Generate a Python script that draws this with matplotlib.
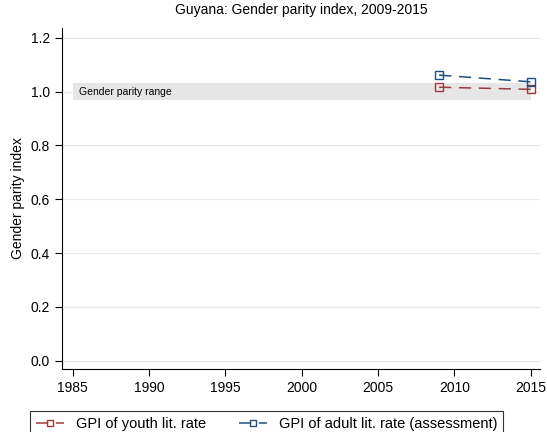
import matplotlib
matplotlib.use("Agg")
import matplotlib.pyplot as plt
from matplotlib.patches import Rectangle

plt.rcParams['font.family'] = ['Liberation Sans', 'DejaVu Sans']

years = [2009, 2015]
youth_gpi = [1.016, 1.008]
adult_gpi = [1.061, 1.036]
parity_low, parity_high = 0.97, 1.03
xticks = [1985, 1990, 1995, 2000, 2005, 2010, 2015]
yticks = [0.0, 0.2, 0.4, 0.6, 0.8, 1.0, 1.2]

red = '#9c3a3f'
blue = '#1f4e85'

fig = plt.figure(figsize=(5.47, 4.32), dpi=100)
ax = fig.add_axes([0.1133, 0.1458, 0.8737, 0.7894])

# gender parity band
ax.add_patch(Rectangle((1985, parity_low), 30, parity_high - parity_low,
                       facecolor='#e6e6e6', edgecolor='none', zorder=1))
ax.text(1985.4, 1.0, 'Gender parity range', fontsize=7.5, va='center', ha='left', zorder=2)

ax.plot(years, youth_gpi, color=red, ls=(0, (8, 5)), lw=1.1, marker='s', ms=6,
        mfc='none', mec=red, mew=1.0, label='GPI of youth lit. rate', zorder=3)
ax.plot(years, adult_gpi, color=blue, ls=(0, (8, 5)), lw=1.1, marker='s', ms=6,
        mfc='none', mec=blue, mew=1.0, label='GPI of adult lit. rate (assessment)', zorder=3)

ax.set_xlim(1984.3, 2015.6)
ax.set_ylim(-0.031, 1.236)
ax.set_xticks(xticks)
ax.set_yticks(yticks)
ax.set_yticklabels([f'{v:.1f}' for v in yticks])
ax.grid(axis='y', color='#e8e8e8', lw=0.8)
ax.set_axisbelow(True)
for s in ['top', 'right']:
    ax.spines[s].set_visible(False)
ax.tick_params(labelsize=10, length=5, width=0.8)
ax.set_ylabel('Gender parity index', fontsize=10)
ax.set_title('Guyana: Gender parity index, 2009-2015', fontsize=10, pad=10)

leg = fig.legend(loc='upper left', bbox_to_anchor=(23 / 547, 1 - 404 / 432),
                 ncol=2, fontsize=10.5, frameon=True, fancybox=False,
                 edgecolor='black', handlelength=1.9, handletextpad=0.8,
                 columnspacing=2.3, borderpad=0.4, markerscale=0.8)
leg.get_frame().set_linewidth(0.8)

fig.savefig('out.png', dpi=100)
